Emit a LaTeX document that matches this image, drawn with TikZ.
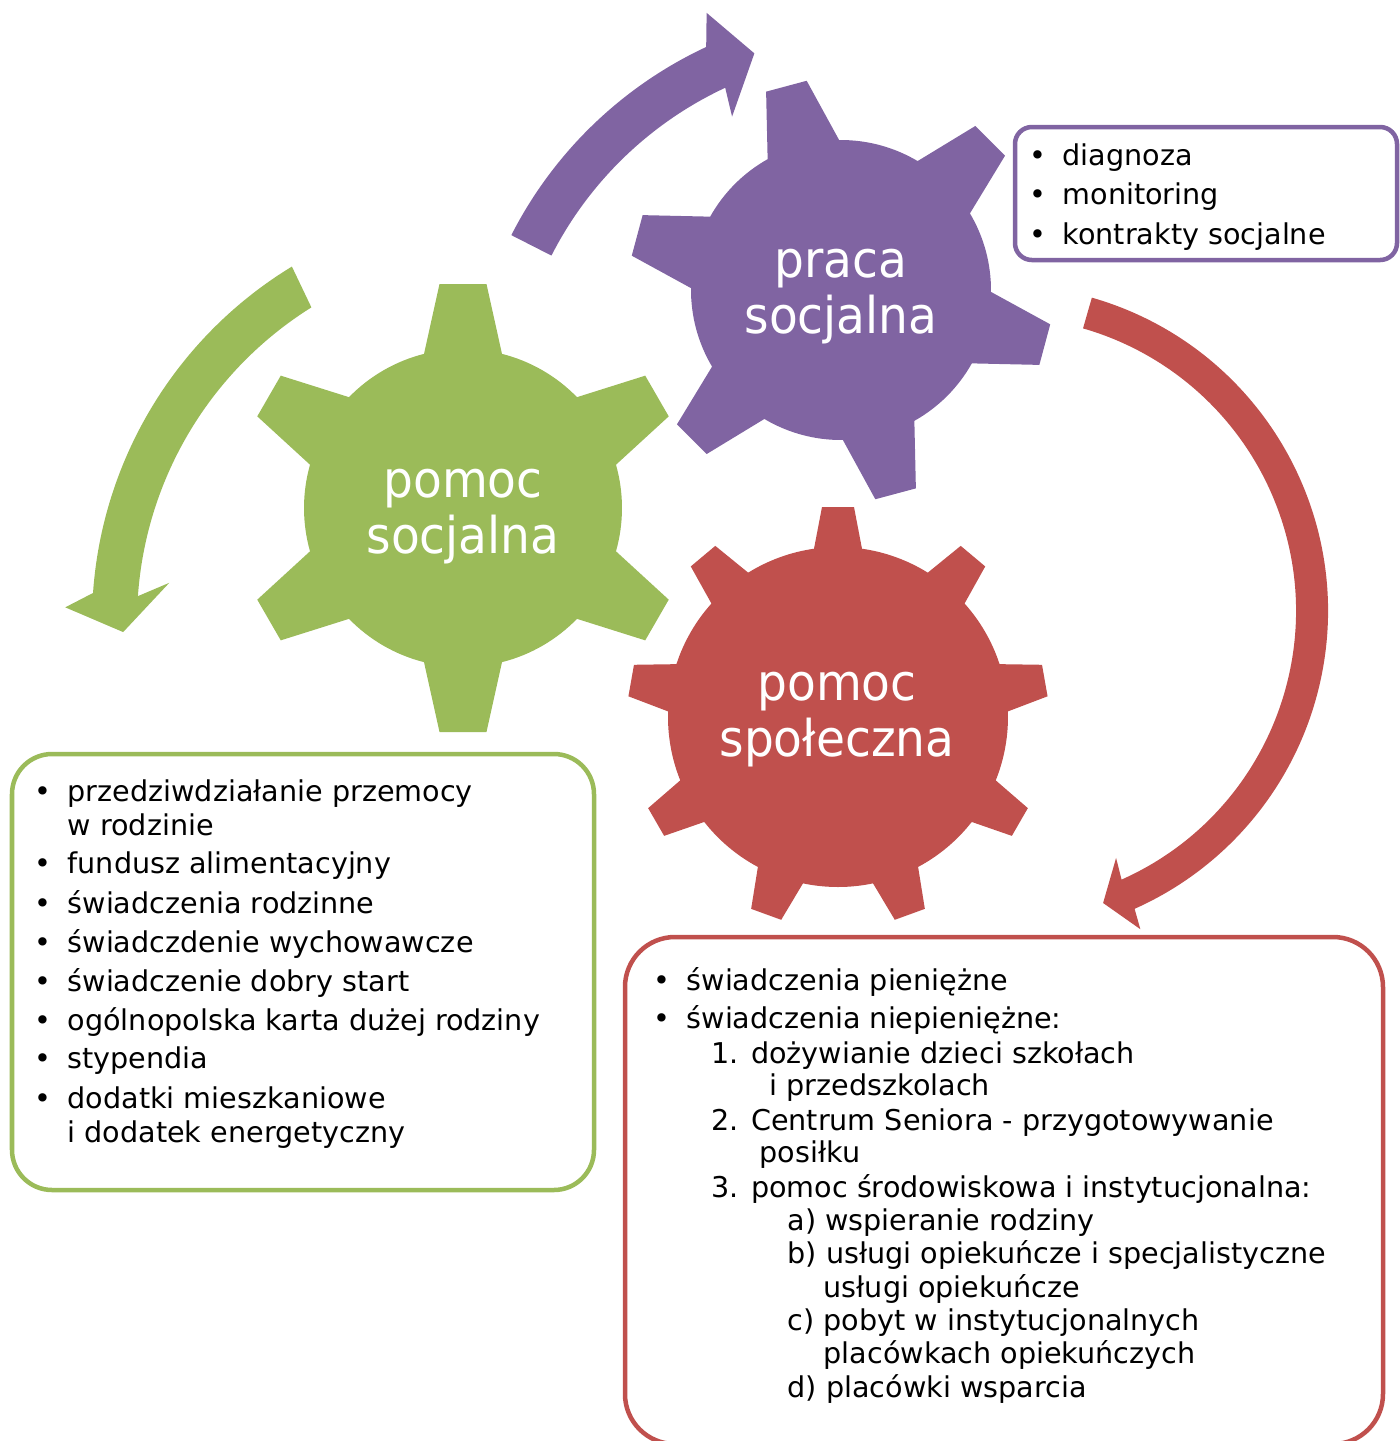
\documentclass[tikz,border=0pt]{standalone}
\usepackage{fontspec}
\setmainfont{DejaVu Sans}
\newfontfamily\gearfont[FakeStretch=0.93]{DejaVu Sans}

\definecolor{gearGreen}{HTML}{9BBB59}
\definecolor{gearPurple}{HTML}{8064A2}
\definecolor{gearRed}{HTML}{C0504D}

\newlength{\pxu}\setlength{\pxu}{0.28453pt}
\newcommand{\blt}{\makebox[50\pxu]{\textbullet}}

% #1 colour, #2 centre, #3 body radius, #4 tip radius,
% #5 half width at base, #6 half width at tip, #7 first tooth, #8 teeth
\newcommand{\gearshape}[8]{%
  \pgfmathsetmacro{\gbase}{asin(#5/#3)}%
  \pgfmathsetmacro{\gtip}{atan(#6/#4)}%
  \pgfmathsetmacro{\grad}{veclen(#4,#6)}%
  \pgfmathsetmacro{\gstep}{360/#8}%
  \fill[#1,shift={(#2)}] ({#7-\gbase}:#3)
    \foreach \k in {1,...,#8}{
      -- ({#7+(\k-1)*\gstep-\gtip}:\grad)
      -- ({#7+(\k-1)*\gstep+\gtip}:\grad)
      -- ({#7+(\k-1)*\gstep+\gbase}:#3)
      arc[start angle={#7+(\k-1)*\gstep+\gbase}, end angle={#7+\k*\gstep-\gbase}, radius=#3]
    } -- cycle;%
}

\tikzset{
  listbox/.style={draw=#1,fill=white,line width=1.28pt},
  listline/.style={anchor=base west,inner sep=0pt,font=\fontsize{8.14pt}{9.5pt}\selectfont},
  gearlabel/.style={anchor=base,inner sep=0pt,text=white,font=\gearfont\fontsize{14.4pt}{16pt}\selectfont}
}

\begin{document}
\begin{tikzpicture}[x=0.01cm,y=-0.01cm]
\useasboundingbox (0,0) rectangle (1400,1441);

% arrows
\begin{scope}[shift={(882,424)}]
\fill[gearPurple] (207:416) arc[start angle=207, end angle=245, radius=416]
  -- (246.9:447) -- (251:392) -- (244:342) -- (245:371)
  arc[start angle=245, end angle=207, radius=371] -- cycle;
\end{scope}
\begin{scope}[shift={(508,622)}]
\fill[gearGreen] (238.7:416) arc[start angle=238.7, end angle=184, radius=416]
  -- (181.9:443) -- (178.5:385) -- (186.6:341) -- (184:371)
  arc[start angle=184, end angle=238, radius=371] -- cycle;
\end{scope}
\begin{scope}[shift={(1002,611)}]
\fill[gearRed] (-74:326) arc[start angle=-74, end angle=66, radius=326]
  -- (66.5:347) -- (70.9:309) -- (65.2:272) -- (66:294)
  arc[start angle=66, end angle=-74, radius=294] -- cycle;
\end{scope}

% gears
\coordinate (gcG) at (463,508);
\coordinate (gcP) at (841,290);
\coordinate (gcR) at (838,717);
\gearshape{gearGreen}{gcG}{159}{224}{39}{23.5}{-90}{6}
\gearshape{gearPurple}{gcP}{150}{211}{37}{21}{-105}{6}
\gearshape{gearRed}{gcR}{170}{210}{24}{16}{-90}{9}

\node[gearlabel] (g1) at (463,497) {pomoc};
\node[gearlabel] (g2) at (463,553) {socjalna};
\node[gearlabel] (p1) at (841,277) {praca};
\node[gearlabel] (p2) at (841,333) {socjalna};
\node[gearlabel] (r1) at (837,700) {pomoc};
\node[gearlabel] (r2) at (837,756) {społeczna};

% boxes
\draw[listbox=gearPurple,rounded corners=4.8pt] (1015,127) rectangle (1397,260);
\draw[listbox=gearGreen,rounded corners=11.4pt] (12,754) rectangle (594,1190);
\draw[listbox=gearRed,rounded corners=14.2pt] (625,937) rectangle (1383,1444);

\node[listline] (pl1) at (1012,165) {\blt diagnoza};
\node[listline] (pl2) at (1012,204.5) {\blt monitoring};
\node[listline] (pl3) at (1012,244) {\blt kontrakty socjalne};

\node[listline] (gl1) at (17,801) {\blt przedziwdziałanie przemocy};
\node[listline] (gl2) at (67,835) {w rodzinie};
\node[listline] (gl3) at (17,873) {\blt fundusz alimentacyjny};
\node[listline] (gl4) at (17,913) {\blt świadczenia rodzinne};
\node[listline] (gl5) at (17,952) {\blt świadczdenie wychowawcze};
\node[listline] (gl6) at (17,991) {\blt świadczenie dobry start};
\node[listline] (gl7) at (17,1030) {\blt ogólnopolska karta dużej rodziny};
\node[listline] (gl8) at (17,1068) {\blt stypendia};
\node[listline] (gl9) at (17,1108) {\blt dodatki mieszkaniowe};
\node[listline] (gl10) at (67,1142) {i dodatek energetyczny};

\node[listline] (rl1) at (636,990) {\blt świadczenia pieniężne};
\node[listline] (rl2) at (636,1028) {\blt świadczenia niepieniężne:};
\node[listline] (rl3) at (711,1063) {1. dożywianie dzieci szkołach};
\node[listline] (rl4) at (769,1095) {i przedszkolach};
\node[listline] (rl5) at (711,1130) {2. Centrum Seniora - przygotowywanie};
\node[listline] (rl6) at (759,1162) {posiłku};
\node[listline] (rl7) at (711,1197) {3. pomoc środowiskowa i instytucjonalna:};
\node[listline] (rl8) at (787,1230) {a) wspieranie rodziny};
\node[listline] (rl9) at (787,1263) {b) usługi opiekuńcze i specjalistyczne};
\node[listline] (rl10) at (823,1297) {usługi opiekuńcze};
\node[listline] (rl11) at (787,1330) {c) pobyt w instytucjonalnych};
\node[listline] (rl12) at (823,1363) {placówkach opiekuńczych};
\node[listline] (rl13) at (787,1397) {d) placówki wsparcia};
\end{tikzpicture}
\end{document}
